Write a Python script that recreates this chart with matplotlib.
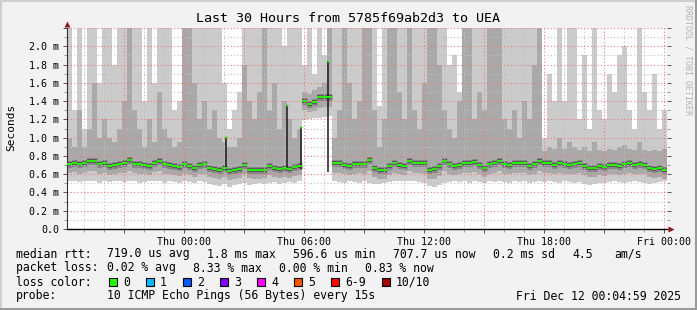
import numpy as np
import matplotlib
matplotlib.use("Agg")
import matplotlib.pyplot as plt
from matplotlib.patches import Rectangle
from matplotlib.lines import Line2D
from matplotlib.ticker import MultipleLocator, FuncFormatter

plt.rcParams['font.family'] = ['DejaVu Sans Mono']

# ---------------- data (ms, 15-minute bins, hours relative to Thu 00:00) ----------------
start_hour = -5.85
bin_hours = 0.25

rtt_median = [0.707, 0.72, 0.71, 0.72, 0.74, 0.745, 0.71, 0.72, 0.69, 0.705,
              0.715, 0.72, 0.75, 0.715, 0.71, 0.70, 0.69, 0.725, 0.74, 0.71,
              0.70, 0.69, 0.68, 0.71, 0.69, 0.67, 0.70, 0.71, 0.67, 0.66,
              0.645, 0.67, 0.635, 0.645, 0.66, 0.705, 0.65, 0.645, 0.645, 0.65,
              0.69, 0.67, 0.66, 0.67, 0.66, 0.68, 0.69, 1.40, 1.37, 1.39,
              1.44, 1.45, 1.45, 0.72, 0.72, 0.70, 0.69, 0.71, 0.715, 0.71,
              0.75, 0.67, 0.65, 0.65, 0.69, 0.72, 0.70, 0.69, 0.74, 0.72,
              0.72, 0.72, 0.65, 0.66, 0.69, 0.74, 0.71, 0.69, 0.70, 0.72,
              0.72, 0.73, 0.70, 0.67, 0.71, 0.72, 0.74, 0.71, 0.70, 0.72,
              0.72, 0.72, 0.69, 0.71, 0.74, 0.72, 0.72, 0.70, 0.72, 0.71,
              0.70, 0.71, 0.72, 0.69, 0.67, 0.67, 0.69, 0.68, 0.70, 0.70,
              0.69, 0.71, 0.72, 0.70, 0.71, 0.70, 0.67, 0.66, 0.67, 0.65]

rtt_min = [0.52, 0.53, 0.51, 0.52, 0.53, 0.52, 0.50, 0.52, 0.51, 0.53,
           0.52, 0.51, 0.53, 0.52, 0.50, 0.51, 0.52, 0.53, 0.52, 0.50,
           0.52, 0.51, 0.50, 0.52, 0.51, 0.50, 0.52, 0.51, 0.49, 0.48,
           0.47, 0.49, 0.46, 0.48, 0.49, 0.50, 0.48, 0.49, 0.50, 0.49,
           0.50, 0.51, 0.49, 0.50, 0.51, 0.50, 0.52, 1.19, 1.20, 1.21,
           1.22, 1.23, 1.24, 0.52, 0.51, 0.50, 0.52, 0.51, 0.50, 0.52,
           0.50, 0.49, 0.49, 0.50, 0.51, 0.53, 0.52, 0.52, 0.53, 0.52,
           0.51, 0.50, 0.47, 0.46, 0.48, 0.50, 0.51, 0.52, 0.51, 0.52,
           0.50, 0.52, 0.51, 0.50, 0.52, 0.51, 0.52, 0.51, 0.50, 0.52,
           0.51, 0.52, 0.50, 0.51, 0.52, 0.51, 0.52, 0.51, 0.50, 0.52,
           0.51, 0.50, 0.51, 0.49, 0.48, 0.49, 0.50, 0.50, 0.51, 0.52,
           0.51, 0.50, 0.51, 0.52, 0.51, 0.50, 0.49, 0.50, 0.51, 0.52]

rtt_lo = [0.61, 0.62, 0.60, 0.61, 0.63, 0.63, 0.60, 0.61, 0.59, 0.60,
          0.61, 0.61, 0.63, 0.61, 0.60, 0.60, 0.59, 0.62, 0.63, 0.60,
          0.60, 0.59, 0.58, 0.60, 0.59, 0.57, 0.60, 0.60, 0.57, 0.56,
          0.55, 0.57, 0.54, 0.55, 0.56, 0.60, 0.56, 0.55, 0.55, 0.56,
          0.59, 0.57, 0.56, 0.57, 0.56, 0.58, 0.59, 1.30, 1.28, 1.29,
          1.32, 1.33, 1.34, 0.61, 0.61, 0.60, 0.59, 0.60, 0.61, 0.60,
          0.63, 0.57, 0.55, 0.55, 0.59, 0.61, 0.60, 0.59, 0.63, 0.61,
          0.61, 0.60, 0.55, 0.55, 0.58, 0.63, 0.60, 0.59, 0.60, 0.61,
          0.61, 0.62, 0.60, 0.57, 0.60, 0.61, 0.63, 0.60, 0.60, 0.61,
          0.61, 0.61, 0.59, 0.60, 0.63, 0.61, 0.61, 0.60, 0.61, 0.60,
          0.60, 0.60, 0.61, 0.59, 0.57, 0.57, 0.59, 0.58, 0.60, 0.60,
          0.59, 0.60, 0.61, 0.60, 0.60, 0.60, 0.57, 0.56, 0.57, 0.55]

rtt_hi = [1.0, 0.9, 1.3, 0.9, 1.1, 1.6, 1.0, 1.2, 1.0, 0.95,
          1.1, 1.4, 2.2, 1.3, 1.1, 0.9, 1.2, 0.95, 1.5, 1.1,
          1.0, 0.9, 0.95, 2.2, 2.2, 1.6, 1.2, 1.4, 1.1, 1.3,
          1.0, 0.95, 0.9, 0.9, 1.0, 1.8, 1.4, 1.2, 1.5, 2.2,
          1.3, 1.6, 1.1, 1.4, 1.2, 1.0, 1.1, 1.5, 1.48, 1.52,
          1.55, 1.6, 2.2, 1.0, 1.3, 2.2, 1.6, 1.2, 1.4, 2.2,
          2.2, 1.3, 0.9, 1.2, 2.2, 2.2, 1.5, 1.2, 2.2, 1.3,
          1.1, 1.6, 2.2, 2.2, 1.8, 1.3, 1.1, 1.0, 1.4, 2.2,
          2.2, 1.2, 1.5, 1.3, 2.2, 2.2, 2.2, 1.2, 1.1, 1.3,
          1.0, 1.4, 1.2, 1.8, 2.2, 0.85, 0.9, 0.88, 1.0, 0.88,
          0.95, 0.9, 0.86, 0.9, 0.85, 0.95, 0.86, 0.85, 0.88, 0.86,
          0.9, 0.92, 0.88, 0.86, 0.95, 0.87, 0.85, 0.86, 0.85, 0.88]

rtt_max = [2.2, 1.3, 2.2, 1.1, 2.2, 2.2, 1.6, 2.2, 2.2, 1.8,
           2.2, 2.2, 2.2, 2.2, 2.2, 1.4, 2.2, 1.6, 2.2, 2.2,
           2.2, 1.3, 1.4, 2.2, 2.2, 2.2, 2.2, 2.2, 2.2, 2.2,
           2.2, 1.6, 1.1, 1.3, 1.5, 2.2, 2.2, 2.2, 2.2, 2.2,
           2.2, 2.2, 2.2, 2.0, 2.2, 2.2, 2.2, 1.8, 2.2, 1.7,
           2.2, 1.9, 2.2, 2.2, 2.2, 2.2, 2.2, 2.2, 2.2, 2.2,
           2.2, 2.2, 1.35, 2.2, 2.2, 2.2, 2.2, 2.2, 2.2, 2.2,
           2.2, 2.2, 2.2, 2.2, 2.2, 2.2, 1.8, 1.9, 1.5, 2.2,
           2.2, 2.2, 2.2, 2.2, 2.2, 2.2, 2.2, 2.2, 2.2, 2.2,
           2.2, 2.2, 2.2, 2.2, 2.2, 1.0, 1.7, 1.4, 2.2, 1.4,
           2.2, 2.2, 1.2, 1.9, 1.1, 2.2, 1.3, 1.2, 1.7, 1.5,
           1.9, 2.0, 1.3, 1.1, 2.2, 1.5, 1.3, 1.7, 1.1, 1.3]

# single-step median jumps (black needles), hours / ms
spike_hours = [2.1, 5.15, 5.85, 7.2]
spike_low = [0.65, 0.67, 0.66, 0.62]
spike_top = [1.01, 1.36, 1.12, 1.84]

x_tick_hours = [0, 6, 12, 18, 24]
x_tick_labels = ["Thu 00:00", "Thu 06:00", "Thu 12:00", "Thu 18:00", "Fri 00:00"]
y_tick_values = [0.0, 0.2, 0.4, 0.6, 0.8, 1.0, 1.2, 1.4, 1.6, 1.8, 2.0]

loss_labels = ["0", "1", "2", "3", "4", "5", "6-9", "10/10"]
loss_colors = ["#26ff00", "#00b8ff", "#0059ff", "#7e00ff", "#ff00ff", "#ff5500", "#ff0000", "#a10000"]
loss_box_x = [109, 146, 183, 220, 257, 294, 331, 382]

title = "Last 30 Hours from 5785f69ab2d3 to UEA"
line_rtt = [("median rtt:", 16), ("719.0 us avg", 107), ("1.8 ms max", 207), ("596.6 us min", 293),
            ("707.7 us now", 393), ("0.2 ms sd", 493), ("4.5", 572), ("am/s", 614)]
line_loss = [("packet loss:", 16), ("0.02 % avg", 107), ("8.33 % max", 193), ("0.00 % min", 279),
             ("0.83 % now", 365)]
probe_text = "10 ICMP Echo Pings (56 Bytes) every 15s"
date_text = "Fri Dec 12 00:04:59 2025"

# ---------------- figure ----------------
W, H = 697, 310
fig = plt.figure(figsize=(W / 100, H / 100), dpi=100, facecolor="#f2f2f2")
ax = fig.add_axes([67 / W, 81 / H, 600 / W, 201 / H])
ax.set_facecolor("white")

med = np.array(rtt_median)
lo = np.array(rtt_lo)
hi = np.array(rtt_hi)
mn = np.array(rtt_min)
mx = np.array(rtt_max)
left = start_hour + bin_hours * np.arange(len(med))

ax.bar(left, mx - mn, bottom=mn, width=bin_hours, align="edge", color="#cbcbcb", lw=0, zorder=1)
ax.bar(left, hi - lo, bottom=lo, width=bin_hours, align="edge", color="#a9a9a9", lw=0, zorder=1.05)
ax.hlines(med, left, left + bin_hours, color="#858585", lw=5.0, zorder=1.1)
ax.hlines(med, left, left + bin_hours, color="#505050", lw=2.6, zorder=1.2)

ax.set_xlim(start_hour, start_hour + bin_hours * len(med))
ax.set_ylim(0, 2.2)

# grid
ax.xaxis.set_major_locator(MultipleLocator(3))
ax.xaxis.set_minor_locator(MultipleLocator(1))
ax.yaxis.set_major_locator(MultipleLocator(0.2))
ax.yaxis.set_minor_locator(MultipleLocator(0.1))
ax.grid(which="minor", color="#c0c0c0", ls=(0, (1, 2)), lw=0.8, zorder=1.5)
ax.grid(which="major", color="#f07a7a", ls=(0, (1, 2)), lw=0.8, zorder=1.6)
ax.set_axisbelow("line")

ax.vlines(spike_hours, spike_low, spike_top, color="#1a1a1a", lw=1.1, zorder=2)
ax.hlines(med, left, left + bin_hours, color="#26ff00", lw=1.3, zorder=3)
ax.plot(spike_hours, spike_top, "s", ms=2, color="#26ff00", mec="none", zorder=3)

def xfmt(v, pos):
    for h, lab in zip(x_tick_hours, x_tick_labels):
        if abs(v - h) < 1e-6:
            return lab
    return ""

def yfmt(v, pos):
    for t in y_tick_values:
        if abs(v - t) < 1e-6:
            return "0.0" if t == 0 else f"{t:.1f} m"
    return ""

ax.xaxis.set_major_formatter(FuncFormatter(xfmt))
ax.yaxis.set_major_formatter(FuncFormatter(yfmt))

ax.tick_params(axis="both", which="major", direction="out", length=3, width=0.7, color="#555555",
               labelsize=7.2, labelcolor="#000000", pad=2.5)
ax.tick_params(axis="both", which="minor", direction="out", length=2, width=0.7, color="#999999")
ax.tick_params(axis="y", which="both", right=True)
for s in ("top", "right"):
    ax.spines[s].set_visible(False)
ax.spines["left"].set_color("#333333")
ax.spines["left"].set_linewidth(0.8)
ax.spines["bottom"].set_color("#000000")
ax.spines["bottom"].set_linewidth(1.0)

# axis arrows
ax.plot([0], [1.022], marker="^", ms=5, color="#8b1a1a", transform=ax.transAxes, clip_on=False, mec="none")
ax.plot([1.006], [0], marker=">", ms=5, color="#8b1a1a", transform=ax.transAxes, clip_on=False, mec="none")

# texts
def fy(y):
    return 1 - y / H

fig.text(348 / W, fy(18), title, ha="center", va="center", fontsize=9.6, color="#000000")
fig.text(11 / W, fy(127), "Seconds", rotation=90, ha="center", va="center", fontsize=8.0)
fig.text(688 / W, fy(5), "RRDTOOL / TOBI OETIKER", rotation=270, ha="center", va="top",
         fontsize=6.0, color="#b4b4b4")

for txt, x in line_rtt:
    fig.text(x / W, fy(254), txt, ha="left", va="center", fontsize=8.3)
for txt, x in line_loss:
    fig.text(x / W, fy(268), txt, ha="left", va="center", fontsize=8.3)
fig.text(16 / W, fy(282), "loss color:", ha="left", va="center", fontsize=8.3)
for lab, col, bx in zip(loss_labels, loss_colors, loss_box_x):
    fig.add_artist(Rectangle((bx / W, fy(286)), 8 / W, 8 / H, transform=fig.transFigure,
                             facecolor=col, edgecolor="#000000", lw=0.8))
    fig.text((bx + 14) / W, fy(282), lab, ha="left", va="center", fontsize=8.3)
fig.text(16 / W, fy(296), "probe:", ha="left", va="center", fontsize=8.3)
fig.text(107 / W, fy(296), probe_text, ha="left", va="center", fontsize=8.3)
fig.text(681 / W, fy(296), date_text, ha="right", va="center", fontsize=8.3)

# 3-D frame
fig.add_artist(Line2D([0, 1], [1 - 1 / H, 1 - 1 / H], transform=fig.transFigure, color="#cfcfcf", lw=1.5))
fig.add_artist(Line2D([1 / W, 1 / W], [0, 1], transform=fig.transFigure, color="#cfcfcf", lw=1.5))
fig.add_artist(Line2D([0, 1], [1.5 / H, 1.5 / H], transform=fig.transFigure, color="#9a9a9a", lw=2.2))
fig.add_artist(Line2D([1 - 1.5 / W, 1 - 1.5 / W], [0, 1], transform=fig.transFigure, color="#9a9a9a", lw=2.2))

fig.savefig("out.png", dpi=100, facecolor=fig.get_facecolor())
